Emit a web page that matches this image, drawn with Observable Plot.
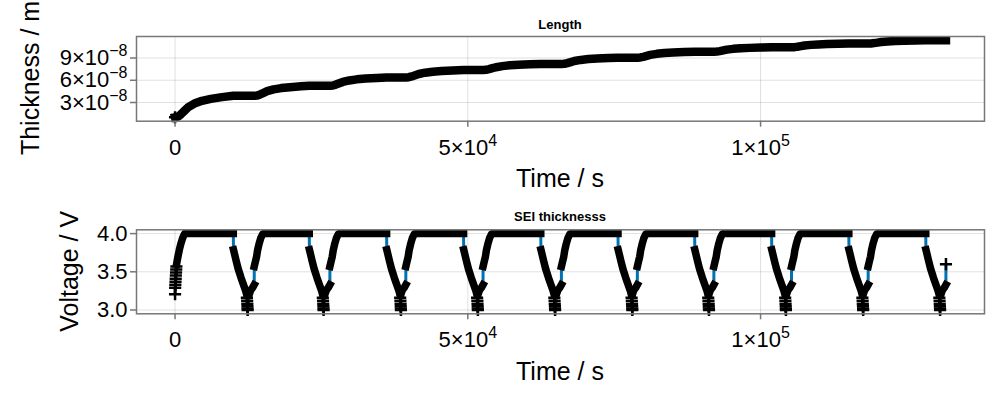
<!DOCTYPE html>
<html><head><meta charset="utf-8">
<script src="https://cdn.jsdelivr.net/npm/d3@7"></script>
<script src="https://cdn.jsdelivr.net/npm/@observablehq/plot@0.6"></script>
<style>
html,body{margin:0;padding:0;background:#fff;}
#chart svg{display:block;}
</style></head><body><div id="chart"></div>
<script>
// ---- tick labels ----
const xTicks = [0, 50000, 100000];
const xTickLabels = ["0", "5×10^4", "1×10^5"];
const thickTicks = [3e-8, 6e-8, 9e-8];
const thickTickLabels = ["3×10^−8", "6×10^−8", "9×10^−8"];
const voltTicks = [3.0, 3.5, 4.0];
const voltTickLabels = ["3.0", "3.5", "4.0"];

// ---- cycle times (s) ----
const chargeStart = [0, 13530, 26450, 39420, 52610, 65990, 78960, 92030, 105290, 118380, 131660];
const cvEnd = [9950, 22920, 36130, 49270, 62460, 75650, 88740, 101880, 115070, 128210];

// ---- voltage profiles (V) ----
const firstChargeT = [0, 20, 50, 80, 110, 140, 170, 200, 230, 260, 500, 740, 1000, 1250, 1450, 1650];
const firstChargeV = [3.207, 3.29, 3.33, 3.37, 3.41, 3.45, 3.49, 3.53, 3.57, 3.60, 3.70, 3.79, 3.87, 3.93, 3.97, 4.0];
const firstBandFrom = 9;
const chargeT = [0, 150, 400, 560, 800, 1100, 1420, 1600];
const chargeV = [3.57, 3.62, 3.70, 3.78, 3.86, 3.94, 3.99, 4.0];
const holdV = 4.0;
const dischargeT = [30, 500, 830, 1330, 1740, 2070, 2280, 2320, 2360, 2390, 2415, 2435, 2450];
const dischargeV = [3.79, 3.64, 3.54, 3.42, 3.33, 3.26, 3.20, 3.16, 3.12, 3.08, 3.05, 3.02, 3.00];
const dischargeBandTo = 6;
const restT = [-780, -600, -300, -10];
const restV = [3.22, 3.26, 3.29, 3.33];
const lastV = 3.60;

// ---- SEI thickness (m) ----
const thickStart = 1.0e-8;
const thickEnd = [3.9e-8, 5.26e-8, 6.38e-8, 7.38e-8, 8.2e-8, 9.05e-8, 9.85e-8, 10.45e-8, 10.95e-8, 11.38e-8];
const growT = [0, 500, 1000, 1600, 2200, 3300, 4600, 6100, 8000];
const growF = [0, 0.03, 0.14, 0.30, 0.46, 0.64, 0.77, 0.86, 0.94];

// ---- build tables ----
const volt = [];
let seg = 0;
firstChargeT.forEach((t, i) => volt.push({t, v: firstChargeV[i], seg: i >= firstBandFrom ? seg : null}));
for (let k = 0; k < cvEnd.length; k++) {
  const D = cvEnd[k];
  volt.push({t: D, v: holdV, seg});
  seg++;
  dischargeT.forEach((dt, i) => volt.push({t: D + dt, v: dischargeV[i], seg: i <= dischargeBandTo ? seg : null}));
  seg++;
  const C = chargeStart[k + 1];
  restT.forEach((dt, i) => volt.push({t: C + dt, v: restV[i], seg}));
  seg++;
  if (k + 1 < cvEnd.length) chargeT.forEach((dt, i) => volt.push({t: C + dt, v: chargeV[i], seg}));
  else volt.push({t: C, v: lastV, seg: null});
}
const voltBand = volt.filter(d => d.seg != null);
const voltLoose = volt.filter(d => d.seg == null);

const thick = [];
for (let k = 0; k < cvEnd.length; k++) {
  const C = chargeStart[k], D = cvEnd[k];
  const a = k === 0 ? thickStart : thickEnd[k - 1], b = thickEnd[k];
  growT.forEach((dt, i) => { if (C + dt < D) thick.push({t: C + dt, v: a + (b - a) * growF[i]}); });
  thick.push({t: D, v: b});
}
thick.push({t: chargeStart[chargeStart.length - 1], v: thickEnd[thickEnd.length - 1]});

function padded(ext) { const r = ext[1] - ext[0]; return [ext[0] - 0.05 * r, ext[1] + 0.05 * r]; }
const xDomain = padded(d3.extent(volt.concat(thick), d => d.t));
const thickDomain = padded(d3.extent(thick, d => d.v));
const voltDomain = padded(d3.extent(volt, d => d.v));

const blue = "#0072B2";
const font = "'Liberation Sans', Arial, Helvetica, sans-serif";
const fmt = (ticks, labels) => d => labels[ticks.indexOf(d)];
const gridOpts = {stroke: "#000", strokeOpacity: 0.12, strokeWidth: 1};
const axisCommon = {tickSize: 6, fontSize: 22, stroke: "#777", fill: "black", label: null, strokeWidth: 1.5};

function supify(svg) {
  svg.querySelectorAll("text").forEach(t => {
    const s = t.textContent;
    if (s.includes("^")) {
      const [b, e] = s.split("^");
      t.textContent = b;
      const ts = document.createElementNS("http://www.w3.org/2000/svg", "tspan");
      ts.setAttribute("dy", "-9");
      ts.setAttribute("font-size", "16");
      ts.textContent = e;
      t.appendChild(ts);
    }
  });
}

function panel({data, band, z, bandWidth, loose, yDomain, yTicks, yLabels, mt, mb}) {
  return Plot.plot({
    width: 1000, height: 200,
    marginLeft: 136, marginRight: 16, marginTop: mt, marginBottom: mb,
    x: {domain: xDomain},
    y: {domain: yDomain},
    style: {fontFamily: font, background: "white", overflow: "visible"},
    marks: [
      Plot.gridX({ticks: xTicks, ...gridOpts}),
      Plot.gridY({ticks: yTicks, ...gridOpts}),
      Plot.line(data, {x: "t", y: "v", stroke: blue, strokeWidth: 3}),
      Plot.line(band, {x: "t", y: "v", z, stroke: "black", strokeWidth: bandWidth, strokeLinejoin: "round", strokeLinecap: "square"}),
      Plot.dot(loose, {x: "t", y: "v", symbol: "plus", r: 4, stroke: "black", fill: "none", strokeWidth: 2.5}),
      Plot.frame({stroke: "#777", strokeWidth: 1.5}),
      Plot.axisX({ticks: xTicks, tickFormat: fmt(xTicks, xTickLabels), tickPadding: 12, ...axisCommon}),
      Plot.axisY({ticks: yTicks, tickFormat: fmt(yTicks, yLabels), tickPadding: 3, ...axisCommon})
    ]
  });
}

const topSvg = panel({data: thick, band: thick, z: null, bandWidth: 8.5, loose: thick.slice(0, 1), yDomain: thickDomain, yTicks: thickTicks, yLabels: thickTickLabels, mt: 36, mb: 79.3});
const botSvg = panel({data: volt, band: voltBand, z: "seg", bandWidth: 7.5, loose: voltLoose, yDomain: voltDomain, yTicks: voltTicks, yLabels: voltTickLabels, mt: 29.3, mb: 86.7});
supify(topSvg); supify(botSvg);

function decorate(svg, title, titleY, xLabelY, yLabel, yLabelX, yLabelY) {
  const s = d3.select(svg);
  s.append("text").attr("x", 560).attr("y", titleY).attr("text-anchor", "middle")
    .attr("font-size", 13).attr("font-weight", "bold").attr("fill", "black").text(title);
  s.append("text").attr("x", 560).attr("y", xLabelY).attr("text-anchor", "middle")
    .attr("font-size", 25).attr("fill", "black").text("Time / s");
  s.append("text").attr("transform", `translate(${yLabelX},${yLabelY}) rotate(-90)`).attr("text-anchor", "middle")
    .attr("font-size", 25).attr("fill", "black").text(yLabel);
}
decorate(topSvg, "Length", 29.3, 186.5, "Thickness / m", 39, 78);
decorate(botSvg, "SEI thicknesss", 21, 180, "Voltage / V", 78, 71.3);

const chart = document.getElementById("chart");
chart.appendChild(topSvg);
chart.appendChild(botSvg);
</script></body></html>
